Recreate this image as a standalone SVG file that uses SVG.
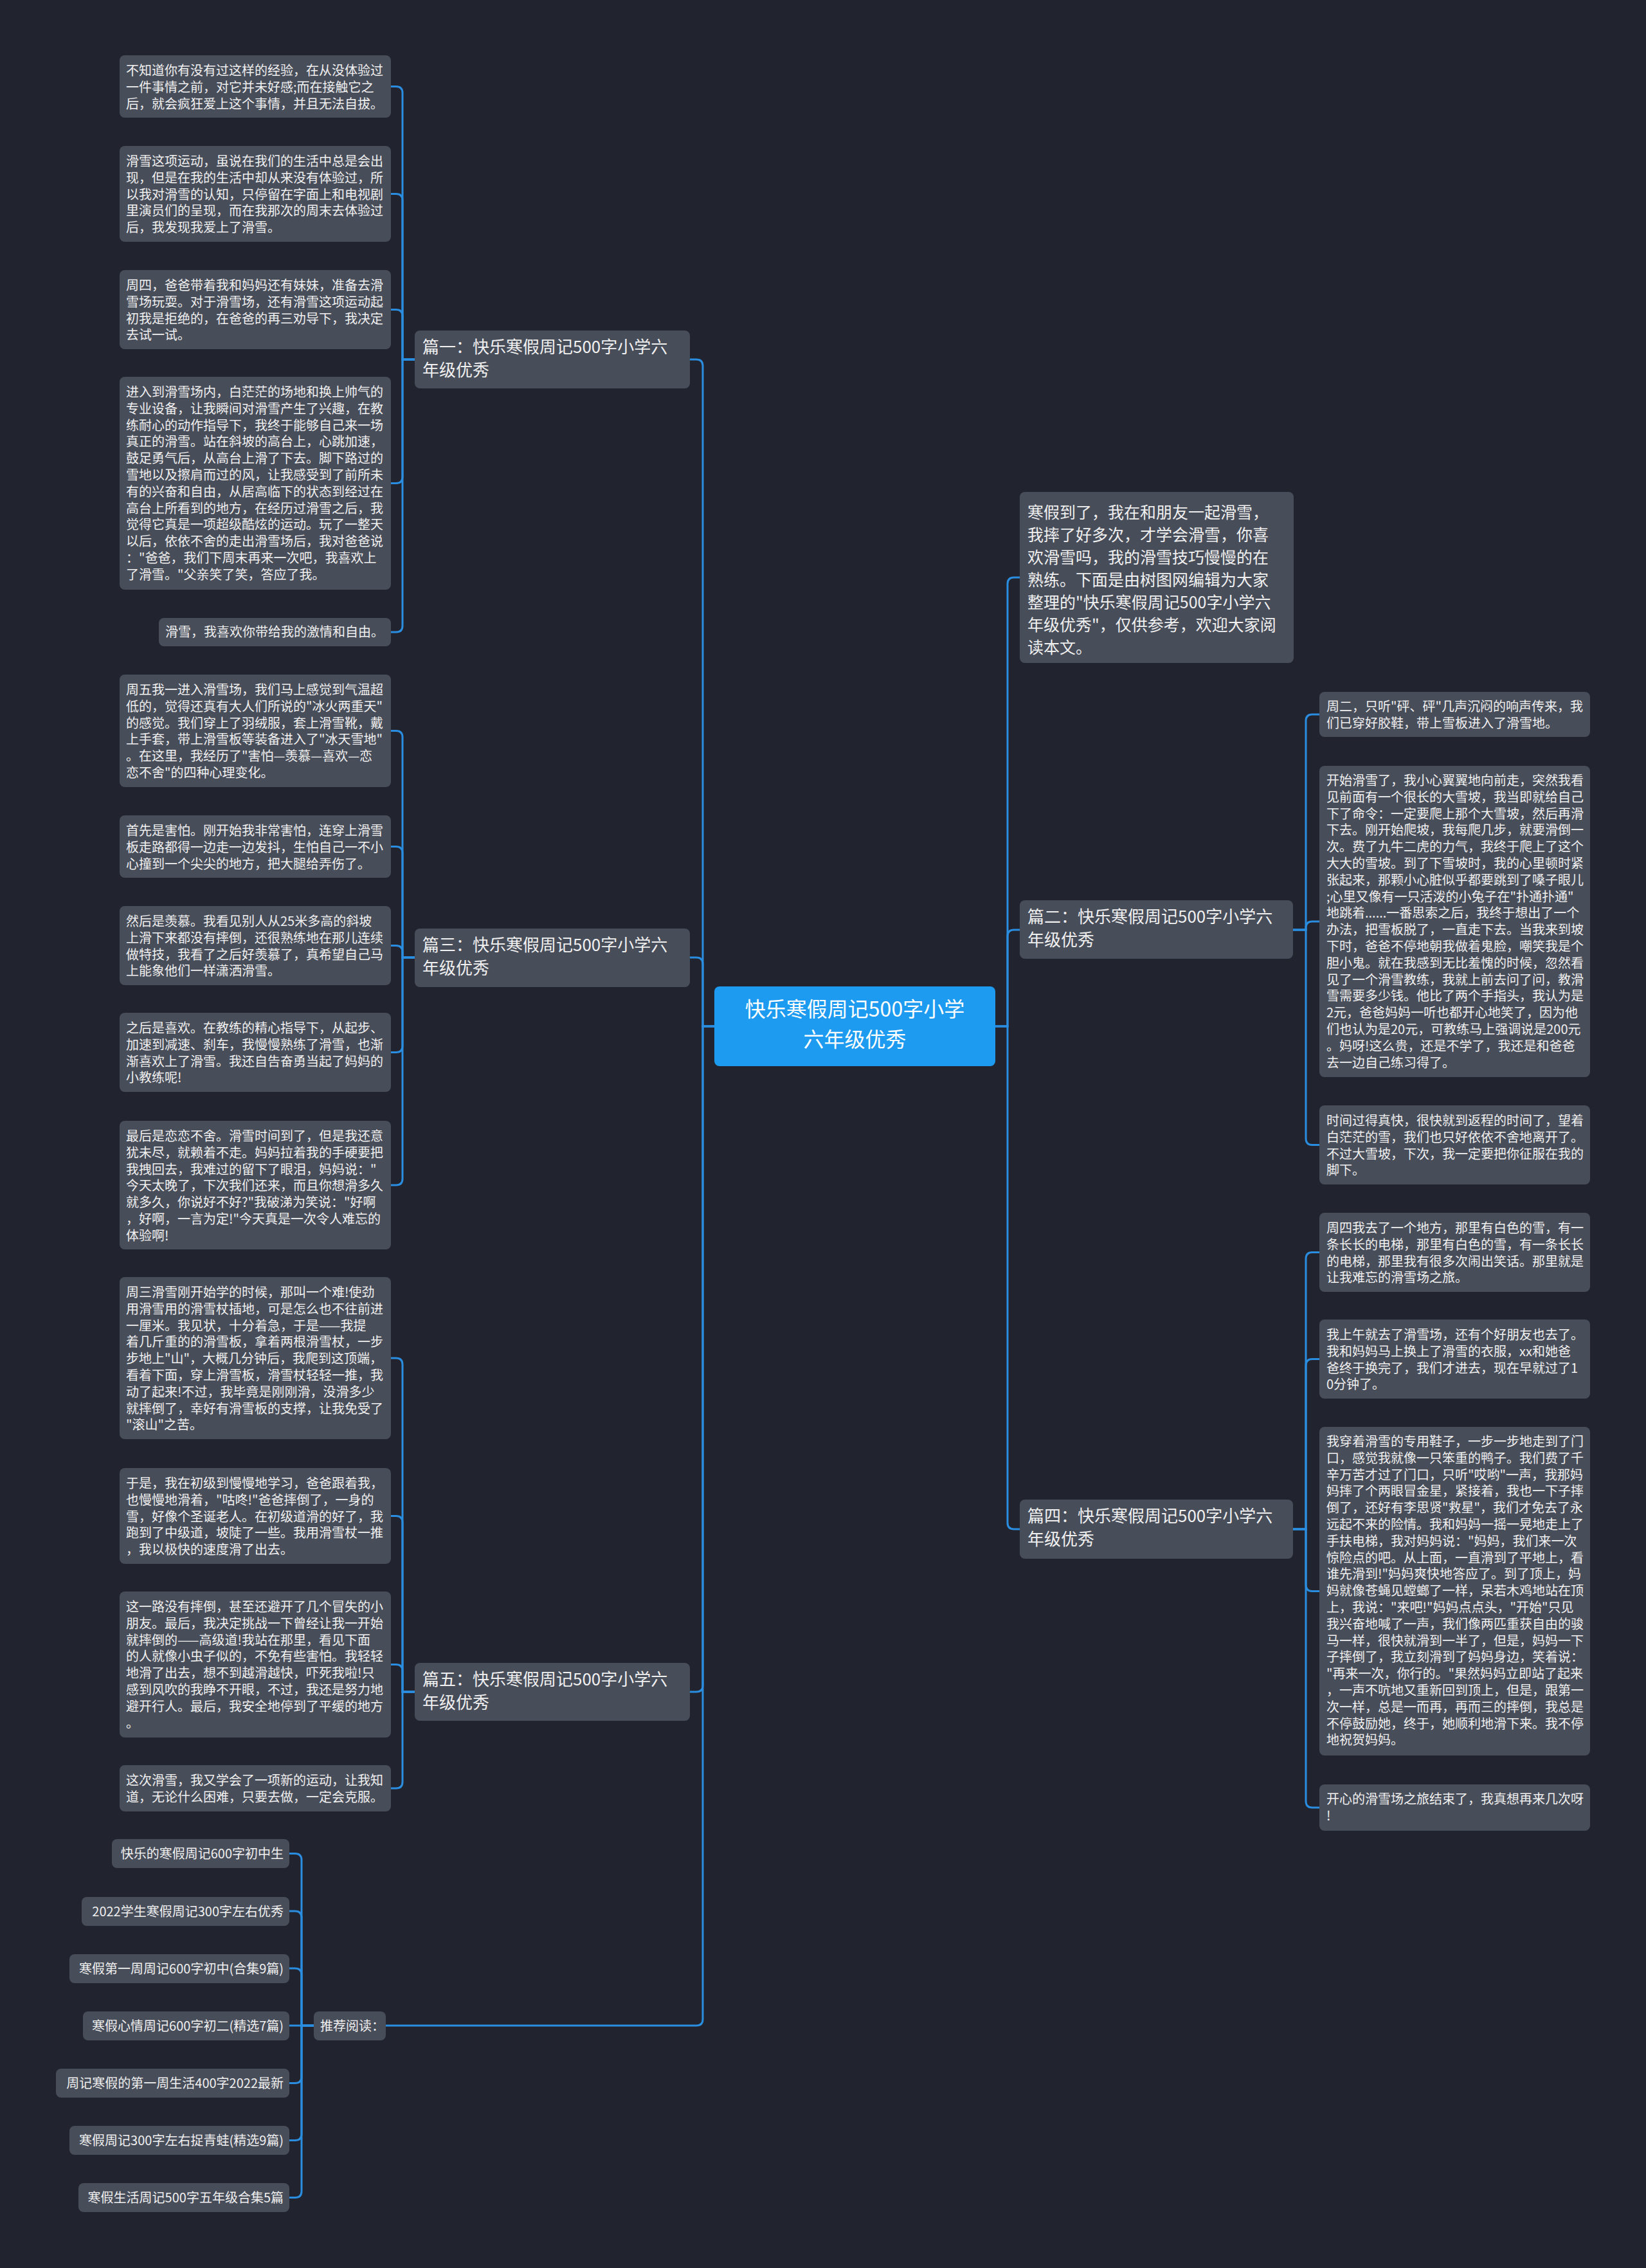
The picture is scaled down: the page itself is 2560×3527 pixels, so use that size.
<svg xmlns="http://www.w3.org/2000/svg" width="2560" height="3527" viewBox="0 0 2560 3527">
<style>
.bg{fill:#21242e}
.n rect{fill:#484d5a}
.t{font-family:"Noto Sans CJK SC","Noto Sans",sans-serif;fill:#f0f0f0}
.s{font-size:20px}
.b{font-size:25px}
.h{font-size:26px}
.c{font-size:32px;fill:#ffffff}
.links path{fill:none;stroke:#2a8ddf;stroke-width:3}
</style>
<rect class="bg" x="0" y="0" width="2560" height="3527"/>
<g class="links">
<path d="M1111,1596 H1093 V569 Q1093,559 1083,559 H1073"/>
<path d="M1111,1596 H1093 V1499 Q1093,1489 1083,1489 H1073"/>
<path d="M1111,1596 H1093 V2621 Q1093,2631 1083,2631 H1073"/>
<path d="M1111,1596 H1093 V3140 Q1093,3150 1083,3150 H600"/>
<path d="M1548,1596 H1567 V908 Q1567,898 1577,898 H1586"/>
<path d="M1548,1596 H1567 V1456 Q1567,1446 1577,1446 H1586"/>
<path d="M1548,1596 H1567 V2368 Q1567,2378 1577,2378 H1586"/>
<path d="M645,559 H626 V144.5 Q626,134.5 616,134.5 H608"/>
<path d="M645,559 H626 V311.5 Q626,301.5 616,301.5 H608"/>
<path d="M645,559 H626 V491.5 Q626,481.5 616,481.5 H608"/>
<path d="M645,559 H626 V741.5 Q626,751.5 616,751.5 H608"/>
<path d="M645,559 H626 V973 Q626,983 616,983 H608"/>
<path d="M645,1489 H626 V1146.5 Q626,1136.5 616,1136.5 H608"/>
<path d="M645,1489 H626 V1326.5 Q626,1316.5 616,1316.5 H608"/>
<path d="M645,1489 H626 V1480.5 Q626,1470.5 616,1470.5 H608"/>
<path d="M645,1489 H626 V1626.5 Q626,1636.5 616,1636.5 H608"/>
<path d="M645,1489 H626 V1833 Q626,1843 616,1843 H608"/>
<path d="M645,2631 H626 V2122 Q626,2112 616,2112 H608"/>
<path d="M645,2631 H626 V2367.5 Q626,2357.5 616,2357.5 H608"/>
<path d="M645,2631 H626 V2598.5 Q626,2588.5 616,2588.5 H608"/>
<path d="M645,2631 H626 V2771 Q626,2781 616,2781 H608"/>
<path d="M488,3150 H469 V2892.5 Q469,2882.5 459,2882.5 H450"/>
<path d="M488,3150 H469 V2982 Q469,2972 459,2972 H450"/>
<path d="M488,3150 H469 V3071 Q469,3061 459,3061 H450"/>
<path d="M488,3150 H450"/>
<path d="M488,3150 H469 V3229.5 Q469,3239.5 459,3239.5 H450"/>
<path d="M488,3150 H469 V3318.5 Q469,3328.5 459,3328.5 H450"/>
<path d="M488,3150 H469 V3407.5 Q469,3417.5 459,3417.5 H450"/>
<path d="M2011,1446 H2031 V1121 Q2031,1111 2041,1111 H2052"/>
<path d="M2011,1446 H2031 V1443 Q2031,1433 2041,1433 H2052"/>
<path d="M2011,1446 H2031 V1770.5 Q2031,1780.5 2041,1780.5 H2052"/>
<path d="M2011,2378 H2031 V1957.5 Q2031,1947.5 2041,1947.5 H2052"/>
<path d="M2011,2378 H2031 V2123.5 Q2031,2113.5 2041,2113.5 H2052"/>
<path d="M2011,2378 H2031 V2464.5 Q2031,2474.5 2041,2474.5 H2052"/>
<path d="M2011,2378 H2031 V2801 Q2031,2811 2041,2811 H2052"/>
</g>

<g id="root">
<rect x="1111" y="1534" width="437" height="124" rx="8" fill="#1d9bf0"/>
<text class="t c" text-anchor="middle"><tspan x="1329.5" y="1581">快乐寒假周记500字小学</tspan><tspan x="1329.5" y="1628">六年级优秀</tspan></text>
</g>

<g id="b1" class="n"><rect x="645" y="514" width="428" height="90" rx="8"/>
<text class="t h"><tspan x="657" y="549">篇一：快乐寒假周记500字小学六</tspan><tspan x="657" y="585">年级优秀</tspan></text></g>
<g id="b3" class="n"><rect x="645" y="1444" width="428" height="91" rx="8"/>
<text class="t h"><tspan x="657" y="1479">篇三：快乐寒假周记500字小学六</tspan><tspan x="657" y="1515">年级优秀</tspan></text></g>
<g id="b5" class="n"><rect x="645" y="2586" width="428" height="90" rx="8"/>
<text class="t h"><tspan x="657" y="2621">篇五：快乐寒假周记500字小学六</tspan><tspan x="657" y="2657">年级优秀</tspan></text></g>
<g id="rec" class="n"><rect x="488" y="3128" width="112" height="45" rx="8"/>
<text class="t s" x="498" y="3158">推荐阅读：</text></g>

<g id="intro" class="n"><rect x="1586" y="765" width="426" height="266" rx="8"/>
<text class="t b"><tspan x="1598" y="806">寒假到了，我在和朋友一起滑雪，</tspan><tspan x="1598" y="841">我摔了好多次，才学会滑雪，你喜</tspan><tspan x="1598" y="876">欢滑雪吗，我的滑雪技巧慢慢的在</tspan><tspan x="1598" y="911">熟练。下面是由树图网编辑为大家</tspan><tspan x="1598" y="946">整理的"快乐寒假周记500字小学六</tspan><tspan x="1598" y="981">年级优秀"，仅供参考，欢迎大家阅</tspan><tspan x="1598" y="1016">读本文。</tspan></text></g>
<g id="b2" class="n"><rect x="1586" y="1400" width="425" height="91" rx="8"/>
<text class="t h"><tspan x="1598" y="1435">篇二：快乐寒假周记500字小学六</tspan><tspan x="1598" y="1471">年级优秀</tspan></text></g>
<g id="b4" class="n"><rect x="1586" y="2332" width="425" height="92" rx="8"/>
<text class="t h"><tspan x="1598" y="2367">篇四：快乐寒假周记500字小学六</tspan><tspan x="1598" y="2403">年级优秀</tspan></text></g>

<g id="l1a" class="n"><rect x="186" y="86" width="422" height="97" rx="8"/>
<text class="t s"><tspan x="196" y="117">不知道你有没有过这样的经验，在从没体验过</tspan><tspan x="196" dy="25.8">一件事情之前，对它并未好感;而在接触它之</tspan><tspan x="196" dy="25.8">后，就会疯狂爱上这个事情，并且无法自拔。</tspan></text></g>
<g id="l1b" class="n"><rect x="186" y="227" width="422" height="149" rx="8"/>
<text class="t s"><tspan x="196" y="258">滑雪这项运动，虽说在我们的生活中总是会出</tspan><tspan x="196" dy="25.8">现，但是在我的生活中却从来没有体验过，所</tspan><tspan x="196" dy="25.8">以我对滑雪的认知，只停留在字面上和电视剧</tspan><tspan x="196" dy="25.8">里演员们的呈现，而在我那次的周末去体验过</tspan><tspan x="196" dy="25.8">后，我发现我爱上了滑雪。</tspan></text></g>
<g id="l1c" class="n"><rect x="186" y="420" width="422" height="123" rx="8"/>
<text class="t s"><tspan x="196" y="451">周四，爸爸带着我和妈妈还有妹妹，准备去滑</tspan><tspan x="196" dy="25.8">雪场玩耍。对于滑雪场，还有滑雪这项运动起</tspan><tspan x="196" dy="25.8">初我是拒绝的，在爸爸的再三劝导下，我决定</tspan><tspan x="196" dy="25.8">去试一试。</tspan></text></g>
<g id="l1d" class="n"><rect x="186" y="586" width="422" height="331" rx="8"/>
<text class="t s"><tspan x="196" y="617">进入到滑雪场内，白茫茫的场地和换上帅气的</tspan><tspan x="196" dy="25.8">专业设备，让我瞬间对滑雪产生了兴趣，在教</tspan><tspan x="196" dy="25.8">练耐心的动作指导下，我终于能够自己来一场</tspan><tspan x="196" dy="25.8">真正的滑雪。站在斜坡的高台上，心跳加速，</tspan><tspan x="196" dy="25.8">鼓足勇气后，从高台上滑了下去。脚下路过的</tspan><tspan x="196" dy="25.8">雪地以及擦肩而过的风，让我感受到了前所未</tspan><tspan x="196" dy="25.8">有的兴奋和自由，从居高临下的状态到经过在</tspan><tspan x="196" dy="25.8">高台上所看到的地方，在经历过滑雪之后，我</tspan><tspan x="196" dy="25.8">觉得它真是一项超级酷炫的运动。玩了一整天</tspan><tspan x="196" dy="25.8">以后，依依不舍的走出滑雪场后，我对爸爸说</tspan><tspan x="196" dy="25.8">："爸爸，我们下周末再来一次吧，我喜欢上</tspan><tspan x="196" dy="25.8">了滑雪。"父亲笑了笑，答应了我。</tspan></text></g>
<g id="l1e" class="n"><rect x="247" y="961" width="361" height="44" rx="8"/>
<text class="t s" x="257" y="990">滑雪，我喜欢你带给我的激情和自由。</text></g>

<g id="l3a" class="n"><rect x="186" y="1049" width="422" height="175" rx="8"/>
<text class="t s"><tspan x="196" y="1080">周五我一进入滑雪场，我们马上感觉到气温超</tspan><tspan x="196" dy="25.8">低的，觉得还真有大人们所说的"冰火两重天"</tspan><tspan x="196" dy="25.8">的感觉。我们穿上了羽绒服，套上滑雪靴，戴</tspan><tspan x="196" dy="25.8">上手套，带上滑雪板等装备进入了"冰天雪地"</tspan><tspan x="196" dy="25.8">。在这里，我经历了"害怕—羡慕—喜欢—恋</tspan><tspan x="196" dy="25.8">恋不舍"的四种心理变化。</tspan></text></g>
<g id="l3b" class="n"><rect x="186" y="1268" width="422" height="97" rx="8"/>
<text class="t s"><tspan x="196" y="1299">首先是害怕。刚开始我非常害怕，连穿上滑雪</tspan><tspan x="196" dy="25.8">板走路都得一边走一边发抖，生怕自己一不小</tspan><tspan x="196" dy="25.8">心撞到一个尖尖的地方，把大腿给弄伤了。</tspan></text></g>
<g id="l3c" class="n"><rect x="186" y="1409" width="422" height="123" rx="8"/>
<text class="t s"><tspan x="196" y="1440">然后是羡慕。我看见别人从25米多高的斜坡</tspan><tspan x="196" dy="25.8">上滑下来都没有摔倒，还很熟练地在那儿连续</tspan><tspan x="196" dy="25.8">做特技，我看了之后好羡慕了，真希望自己马</tspan><tspan x="196" dy="25.8">上能象他们一样潇洒滑雪。</tspan></text></g>
<g id="l3d" class="n"><rect x="186" y="1575" width="422" height="123" rx="8"/>
<text class="t s"><tspan x="196" y="1606">之后是喜欢。在教练的精心指导下，从起步、</tspan><tspan x="196" dy="25.8">加速到减速、刹车，我慢慢熟练了滑雪，也渐</tspan><tspan x="196" dy="25.8">渐喜欢上了滑雪。我还自告奋勇当起了妈妈的</tspan><tspan x="196" dy="25.8">小教练呢!</tspan></text></g>
<g id="l3e" class="n"><rect x="186" y="1743" width="422" height="200" rx="8"/>
<text class="t s"><tspan x="196" y="1774">最后是恋恋不舍。滑雪时间到了，但是我还意</tspan><tspan x="196" dy="25.8">犹未尽，就赖着不走。妈妈拉着我的手硬要把</tspan><tspan x="196" dy="25.8">我拽回去，我难过的留下了眼泪，妈妈说："</tspan><tspan x="196" dy="25.8">今天太晚了，下次我们还来，而且你想滑多久</tspan><tspan x="196" dy="25.8">就多久，你说好不好?"我破涕为笑说："好啊</tspan><tspan x="196" dy="25.8">，好啊，一言为定!"今天真是一次令人难忘的</tspan><tspan x="196" dy="25.8">体验啊!</tspan></text></g>

<g id="l5a" class="n"><rect x="186" y="1986" width="422" height="252" rx="8"/>
<text class="t s"><tspan x="196" y="2017">周三滑雪刚开始学的时候，那叫一个难!使劲</tspan><tspan x="196" dy="25.8">用滑雪用的滑雪杖插地，可是怎么也不往前进</tspan><tspan x="196" dy="25.8">一厘米。我见状，十分着急，于是——我提</tspan><tspan x="196" dy="25.8">着几斤重的的滑雪板，拿着两根滑雪杖，一步</tspan><tspan x="196" dy="25.8">步地上"山"，大概几分钟后，我爬到这顶端，</tspan><tspan x="196" dy="25.8">看着下面，穿上滑雪板，滑雪杖轻轻一推，我</tspan><tspan x="196" dy="25.8">动了起来!不过，我毕竟是刚刚滑，没滑多少</tspan><tspan x="196" dy="25.8">就摔倒了，幸好有滑雪板的支撑，让我免受了</tspan><tspan x="196" dy="25.8">"滚山"之苦。</tspan></text></g>
<g id="l5b" class="n"><rect x="186" y="2283" width="422" height="149" rx="8"/>
<text class="t s"><tspan x="196" y="2314">于是，我在初级到慢慢地学习，爸爸跟着我，</tspan><tspan x="196" dy="25.8">也慢慢地滑着，"咕咚!"爸爸摔倒了，一身的</tspan><tspan x="196" dy="25.8">雪，好像个圣诞老人。在初级道滑的好了，我</tspan><tspan x="196" dy="25.8">跑到了中级道，坡陡了一些。我用滑雪杖一推</tspan><tspan x="196" dy="25.8">，我以极快的速度滑了出去。</tspan></text></g>
<g id="l5c" class="n"><rect x="186" y="2475" width="422" height="227" rx="8"/>
<text class="t s"><tspan x="196" y="2506">这一路没有摔倒，甚至还避开了几个冒失的小</tspan><tspan x="196" dy="25.8">朋友。最后，我决定挑战一下曾经让我一开始</tspan><tspan x="196" dy="25.8">就摔倒的——高级道!我站在那里，看见下面</tspan><tspan x="196" dy="25.8">的人就像小虫子似的，不免有些害怕。我轻轻</tspan><tspan x="196" dy="25.8">地滑了出去，想不到越滑越快，吓死我啦!只</tspan><tspan x="196" dy="25.8">感到风吹的我睁不开眼，不过，我还是努力地</tspan><tspan x="196" dy="25.8">避开行人。最后，我安全地停到了平缓的地方</tspan><tspan x="196" dy="25.8">。</tspan></text></g>
<g id="l5d" class="n"><rect x="186" y="2745" width="422" height="72" rx="8"/>
<text class="t s"><tspan x="196" y="2776">这次滑雪，我又学会了一项新的运动，让我知</tspan><tspan x="196" dy="25.8">道，无论什么困难，只要去做，一定会克服。</tspan></text></g>

<g id="r1" class="n"><rect x="174" y="2860" width="276" height="45" rx="8"/><text class="t s" text-anchor="end" x="441" y="2890">快乐的寒假周记600字初中生</text></g>
<g id="r2" class="n"><rect x="127" y="2950" width="323" height="45" rx="8"/><text class="t s" text-anchor="end" x="441" y="2980">2022学生寒假周记300字左右优秀</text></g>
<g id="r3" class="n"><rect x="108" y="3039" width="342" height="45" rx="8"/><text class="t s" text-anchor="end" x="441" y="3069">寒假第一周周记600字初中(合集9篇)</text></g>
<g id="r4" class="n"><rect x="129" y="3128" width="321" height="45" rx="8"/><text class="t s" text-anchor="end" x="441" y="3158">寒假心情周记600字初二(精选7篇)</text></g>
<g id="r5" class="n"><rect x="87" y="3217" width="363" height="45" rx="8"/><text class="t s" text-anchor="end" x="441" y="3247">周记寒假的第一周生活400字2022最新</text></g>
<g id="r6" class="n"><rect x="108" y="3306" width="342" height="45" rx="8"/><text class="t s" text-anchor="end" x="441" y="3336">寒假周记300字左右捉青蛙(精选9篇)</text></g>
<g id="r7" class="n"><rect x="122" y="3395" width="328" height="45" rx="8"/><text class="t s" text-anchor="end" x="441" y="3425">寒假生活周记500字五年级合集5篇</text></g>

<g id="l2a" class="n"><rect x="2052" y="1076" width="421" height="70" rx="8"/>
<text class="t s"><tspan x="2063" y="1106">周二，只听"砰、砰"几声沉闷的响声传来，我</tspan><tspan x="2063" dy="25.8">们已穿好胶鞋，带上雪板进入了滑雪地。</tspan></text></g>
<g id="l2b" class="n"><rect x="2052" y="1191" width="421" height="484" rx="8"/>
<text class="t s"><tspan x="2063" y="1221">开始滑雪了，我小心翼翼地向前走，突然我看</tspan><tspan x="2063" dy="25.8">见前面有一个很长的大雪坡，我当即就给自己</tspan><tspan x="2063" dy="25.8">下了命令：一定要爬上那个大雪坡，然后再滑</tspan><tspan x="2063" dy="25.8">下去。刚开始爬坡，我每爬几步，就要滑倒一</tspan><tspan x="2063" dy="25.8">次。费了九牛二虎的力气，我终于爬上了这个</tspan><tspan x="2063" dy="25.8">大大的雪坡。到了下雪坡时，我的心里顿时紧</tspan><tspan x="2063" dy="25.8">张起来，那颗小心脏似乎都要跳到了嗓子眼儿</tspan><tspan x="2063" dy="25.8">;心里又像有一只活泼的小兔子在"扑通扑通"</tspan><tspan x="2063" dy="25.8">地跳着......一番思索之后，我终于想出了一个</tspan><tspan x="2063" dy="25.8">办法，把雪板脱了，一直走下去。当我来到坡</tspan><tspan x="2063" dy="25.8">下时，爸爸不停地朝我做着鬼脸，嘲笑我是个</tspan><tspan x="2063" dy="25.8">胆小鬼。就在我感到无比羞愧的时候，忽然看</tspan><tspan x="2063" dy="25.8">见了一个滑雪教练，我就上前去问了问，教滑</tspan><tspan x="2063" dy="25.8">雪需要多少钱。他比了两个手指头，我认为是</tspan><tspan x="2063" dy="25.8">2元，爸爸妈妈一听也都开心地笑了，因为他</tspan><tspan x="2063" dy="25.8">们也认为是20元，可教练马上强调说是200元</tspan><tspan x="2063" dy="25.8">。妈呀!这么贵，还是不学了，我还是和爸爸</tspan><tspan x="2063" dy="25.8">去一边自己练习得了。</tspan></text></g>
<g id="l2c" class="n"><rect x="2052" y="1719" width="421" height="123" rx="8"/>
<text class="t s"><tspan x="2063" y="1750">时间过得真快，很快就到返程的时间了，望着</tspan><tspan x="2063" dy="25.8">白茫茫的雪，我们也只好依依不舍地离开了。</tspan><tspan x="2063" dy="25.8">不过大雪坡，下次，我一定要把你征服在我的</tspan><tspan x="2063" dy="25.8">脚下。</tspan></text></g>

<g id="l4a" class="n"><rect x="2052" y="1886" width="421" height="123" rx="8"/>
<text class="t s"><tspan x="2063" y="1917">周四我去了一个地方，那里有白色的雪，有一</tspan><tspan x="2063" dy="25.8">条长长的电梯，那里有白色的雪，有一条长长</tspan><tspan x="2063" dy="25.8">的电梯，那里我有很多次闹出笑话。那里就是</tspan><tspan x="2063" dy="25.8">让我难忘的滑雪场之旅。</tspan></text></g>
<g id="l4b" class="n"><rect x="2052" y="2052" width="421" height="123" rx="8"/>
<text class="t s"><tspan x="2063" y="2083">我上午就去了滑雪场，还有个好朋友也去了。</tspan><tspan x="2063" dy="25.8">我和妈妈马上换上了滑雪的衣服，xx和她爸</tspan><tspan x="2063" dy="25.8">爸终于换完了，我们才进去，现在早就过了1</tspan><tspan x="2063" dy="25.8">0分钟了。</tspan></text></g>
<g id="l4c" class="n"><rect x="2052" y="2219" width="421" height="511" rx="8"/>
<text class="t s"><tspan x="2063" y="2249">我穿着滑雪的专用鞋子，一步一步地走到了门</tspan><tspan x="2063" dy="25.8">口，感觉我就像一只笨重的鸭子。我们费了千</tspan><tspan x="2063" dy="25.8">辛万苦才过了门口，只听"哎哟"一声，我那妈</tspan><tspan x="2063" dy="25.8">妈摔了个两眼冒金星，紧接着，我也一下子摔</tspan><tspan x="2063" dy="25.8">倒了，还好有李思贤"救星"，我们才免去了永</tspan><tspan x="2063" dy="25.8">远起不来的险情。我和妈妈一摇一晃地走上了</tspan><tspan x="2063" dy="25.8">手扶电梯，我对妈妈说："妈妈，我们来一次</tspan><tspan x="2063" dy="25.8">惊险点的吧。从上面，一直滑到了平地上，看</tspan><tspan x="2063" dy="25.8">谁先滑到!"妈妈爽快地答应了。到了顶上，妈</tspan><tspan x="2063" dy="25.8">妈就像苍蝇见螳螂了一样，呆若木鸡地站在顶</tspan><tspan x="2063" dy="25.8">上，我说："来吧!"妈妈点点头，"开始"只见</tspan><tspan x="2063" dy="25.8">我兴奋地喊了一声，我们像两匹重获自由的骏</tspan><tspan x="2063" dy="25.8">马一样，很快就滑到一半了，但是，妈妈一下</tspan><tspan x="2063" dy="25.8">子摔倒了，我立刻滑到了妈妈身边，笑着说：</tspan><tspan x="2063" dy="25.8">"再来一次，你行的。"果然妈妈立即站了起来</tspan><tspan x="2063" dy="25.8">，一声不吭地又重新回到顶上，但是，跟第一</tspan><tspan x="2063" dy="25.8">次一样，总是一而再，再而三的摔倒，我总是</tspan><tspan x="2063" dy="25.8">不停鼓励她，终于，她顺利地滑下来。我不停</tspan><tspan x="2063" dy="25.8">地祝贺妈妈。</tspan></text></g>
<g id="l4d" class="n"><rect x="2052" y="2775" width="421" height="72" rx="8"/>
<text class="t s"><tspan x="2063" y="2805">开心的滑雪场之旅结束了，我真想再来几次呀</tspan><tspan x="2063" dy="25.8">!</tspan></text></g>
</svg>
